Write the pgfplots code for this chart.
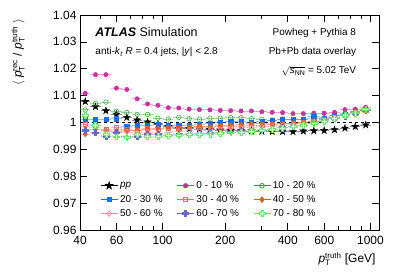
\documentclass[border=0pt]{standalone}
\usepackage{pgfplots}
\pgfplotsset{compat=1.18}
\usepackage{pgfplotstable}
\usepackage{amsmath}
\usepackage{fontspec}
\setmainfont{Liberation Sans}

\definecolor{cmag}{RGB}{204,51,160}
\definecolor{cgrn}{RGB}{40,160,40}
\definecolor{cblu}{RGB}{20,110,240}
\definecolor{cred}{RGB}{255,102,102}
\definecolor{cora}{RGB}{210,100,20}
\definecolor{cpnk}{RGB}{255,136,170}
\definecolor{cpur}{RGB}{102,102,204}
\definecolor{clgr}{RGB}{102,230,102}

\pgfdeclareplotmark{fstar}{%
  \pgfpathmoveto{\pgfqpoint{0pt}{\pgfplotmarksize}}%
  \pgfpathlineto{\pgfqpoint{-0.2245\pgfplotmarksize}{0.309\pgfplotmarksize}}%
  \pgfpathlineto{\pgfqpoint{-0.951\pgfplotmarksize}{0.309\pgfplotmarksize}}%
  \pgfpathlineto{\pgfqpoint{-0.363\pgfplotmarksize}{-0.118\pgfplotmarksize}}%
  \pgfpathlineto{\pgfqpoint{-0.588\pgfplotmarksize}{-0.809\pgfplotmarksize}}%
  \pgfpathlineto{\pgfqpoint{0pt}{-0.382\pgfplotmarksize}}%
  \pgfpathlineto{\pgfqpoint{0.588\pgfplotmarksize}{-0.809\pgfplotmarksize}}%
  \pgfpathlineto{\pgfqpoint{0.363\pgfplotmarksize}{-0.118\pgfplotmarksize}}%
  \pgfpathlineto{\pgfqpoint{0.951\pgfplotmarksize}{0.309\pgfplotmarksize}}%
  \pgfpathlineto{\pgfqpoint{0.2245\pgfplotmarksize}{0.309\pgfplotmarksize}}%
  \pgfpathclose\pgfusepathqfillstroke}
\newcommand{\crosspath}{%
  \pgfpathmoveto{\pgfqpoint{-0.3\pgfplotmarksize}{\pgfplotmarksize}}%
  \pgfpathlineto{\pgfqpoint{0.3\pgfplotmarksize}{\pgfplotmarksize}}%
  \pgfpathlineto{\pgfqpoint{0.3\pgfplotmarksize}{0.3\pgfplotmarksize}}%
  \pgfpathlineto{\pgfqpoint{\pgfplotmarksize}{0.3\pgfplotmarksize}}%
  \pgfpathlineto{\pgfqpoint{\pgfplotmarksize}{-0.3\pgfplotmarksize}}%
  \pgfpathlineto{\pgfqpoint{0.3\pgfplotmarksize}{-0.3\pgfplotmarksize}}%
  \pgfpathlineto{\pgfqpoint{0.3\pgfplotmarksize}{-\pgfplotmarksize}}%
  \pgfpathlineto{\pgfqpoint{-0.3\pgfplotmarksize}{-\pgfplotmarksize}}%
  \pgfpathlineto{\pgfqpoint{-0.3\pgfplotmarksize}{-0.3\pgfplotmarksize}}%
  \pgfpathlineto{\pgfqpoint{-\pgfplotmarksize}{-0.3\pgfplotmarksize}}%
  \pgfpathlineto{\pgfqpoint{-\pgfplotmarksize}{0.3\pgfplotmarksize}}%
  \pgfpathlineto{\pgfqpoint{-0.3\pgfplotmarksize}{0.3\pgfplotmarksize}}%
  \pgfpathclose}
\pgfdeclareplotmark{fcross}{\crosspath\pgfusepathqfillstroke}
\pgfdeclareplotmark{ocross}{\crosspath\pgfusepathqfillstroke}

\pgfplotstableread{
x pp c0 c10 c20 c30 c40 c50 c60 c70
42.4 1.0078 1.0109 1.0047 1.0010 0.9992 0.9957 0.9985 0.9970 1.0027
47.5 1.0059 1.0178 1.0071 1.0010 0.9990 0.9975 0.9982 0.9962 0.9990
53.3 1.0044 1.0178 1.0076 1.0012 0.9974 0.9972 0.9968 0.9950 0.9955
59.9 1.0031 1.0128 1.0042 1.0014 0.9983 0.9968 0.9975 0.9962 0.9947
67.2 1.0019 1.0123 1.0037 0.9985 0.9975 0.9970 0.9965 0.9947 0.9945
75.4 1.0009 1.0088 1.0030 0.9988 0.9972 0.9972 0.9962 0.9950 0.9955
84.6 1.0002 1.0069 1.0030 0.9990 0.9978 0.9975 0.9965 0.9957 0.9950
94.9 0.9993 1.0064 1.0016 0.9995 0.9975 0.9978 0.9960 0.9955 0.9950
106.5 0.9985 1.0055 1.0013 0.9990 0.9978 0.9980 0.9965 0.9952 0.9952
119.5 0.9979 1.0054 1.0019 0.9990 0.9980 0.9980 0.9968 0.9955 0.9953
134.1 0.9977 1.0050 1.0014 0.9990 0.9982 0.9982 0.9972 0.9955 0.9955
150.4 0.9976 1.0048 1.0012 0.9993 0.9984 0.9985 0.9975 0.9958 0.9957
168.8 0.9974 1.0047 1.0016 0.9997 0.9983 0.9985 0.9972 0.9960 0.9958
189.4 0.9972 1.0045 1.0016 1.0000 0.9985 0.9988 0.9975 0.9962 0.9960
212.5 0.9970 1.0044 1.0018 1.0003 0.9987 0.9990 0.9978 0.9965 0.9962
238.4 0.9969 1.0043 1.0018 1.0003 0.9985 0.9992 0.9980 0.9967 0.9965
267.5 0.9968 1.0043 1.0014 1.0000 0.9988 0.9995 0.9982 0.9968 0.9968
300.2 0.9967 1.0040 1.0012 1.0003 0.9990 0.9995 0.9985 0.9970 0.9970
336.8 0.9966 1.0038 1.0009 1.0007 0.9992 0.9993 0.9987 0.9975 0.9975
377.9 0.9966 1.0037 1.0013 1.0012 0.9995 0.9995 0.9990 0.9983 0.9980
424.0 0.9966 1.0033 1.0010 1.0012 0.9998 0.9997 0.9993 0.9985 0.9985
475.7 0.9968 1.0033 1.0012 1.0012 1.0000 1.0000 0.9997 0.9990 0.9990
533.8 0.9969 1.0035 1.0015 1.0022 1.0005 1.0005 1.0003 0.9998 0.9998
598.9 0.9970 1.0035 1.0018 1.0016 1.0010 1.0010 1.0008 1.0005 1.0005
672.0 0.9973 1.0038 1.0025 1.0025 1.0018 1.0018 1.0016 1.0015 1.0015
754.0 0.9979 1.0048 1.0035 1.0032 1.0028 1.0028 1.0026 1.0025 1.0026
846.0 0.9985 1.0050 1.0042 1.0040 1.0036 1.0036 1.0036 1.0035 1.0036
949.2 0.9991 1.0057 1.0050 1.0047 1.0045 1.0046 1.0044 1.0046 1.0048
}\data

\newcommand{\pT}[1]{\textit{p}$_{\text{T}}^{\text{#1}}$}
\pgfplotsset{eb/.style={only marks, line width=0.5pt,
    error bars/x dir=both, error bars/x explicit relative,
    error bars/y dir=both, error bars/y explicit,
    error bars/error bar style={line width=0.8pt, opacity=0.45},
    error bars/error mark=none}}

\begin{document}
\begin{tikzpicture}
\useasboundingbox (-80bp,-42bp) rectangle (319bp,230bp);
\begin{axis}[
  at={(0,0)}, anchor=south west,
  scale only axis, width=299bp, height=215bp,
  xmode=log, xmin=40, xmax=1100, ymin=0.96, ymax=1.04,
  xtick={40,60,100,200,400,600,1000},
  xticklabels={40,60,100,200,400,600,1000},
  minor xtick={50,70,80,90,300,500,700,800,900},
  ytick={0.96,0.97,0.98,0.99,1,1.01,1.02,1.03,1.04},
  yticklabels={0.96,0.97,0.98,0.99,1,1.01,1.02,1.03,1.04},
  major tick length=7bp, minor tick length=4bp,
  axis line style={line width=0.7pt}, tick style={line width=0.6pt, black},
  tick label style={font=\fontsize{12}{14}\selectfont},
  xticklabel style={yshift=-2.5bp},
  /pgf/number format/assume math mode=true,
  xlabel={\pT{truth} [GeV]},
  ylabel={$\langle$ \pT{rec} / \pT{truth} $\rangle$},
  label style={font=\fontsize{12}{14}\selectfont},
  x label style={at={(axis description cs:1,-0.088)}, anchor=north east},
  y label style={at={(axis description cs:-0.207,1)}, anchor=east},
  legend style={draw=none, fill=none, at={(axis description cs:0.057,0.245)}, anchor=north west,
    font=\fontsize{10}{12}\selectfont, row sep=1.5bp,
    /tikz/every even column/.append style={column sep=12bp}},
  legend columns=3, legend cell align=left,
  legend image code/.code={\draw[#1, sharp plot, mark repeat=2, mark phase=2, line width=0.8pt] plot coordinates {(0cm,0cm) (0.3cm,0cm) (0.6cm,0cm)};},
]
\addplot[black, dashed, line width=0.5pt, forget plot, mark=none] coordinates {(40,1) (1100,1)};

\addplot[eb, black, mark=fstar, mark size=3.6pt, mark options={fill=black, solid}] table[x=x,y=pp,x error expr=0.058,y error expr=0.0002] {\data};
\addlegendentry{\textit{pp}}
\addplot[eb, cmag, mark=*, mark size=2.2pt, mark options={fill=cmag}] table[x=x,y=c0,x error expr=0.058,y error expr=0.0002] {\data};
\addlegendentry{0 - 10 \%}
\addplot[eb, cgrn, mark=o, mark size=2.3pt, mark options={fill=white}] table[x=x,y=c10,x error expr=0.058,y error expr=0.0002] {\data};
\addlegendentry{10 - 20 \%}
\addplot[eb, cblu, mark=square*, mark size=2.1pt, mark options={fill=cblu}] table[x=x,y=c20,x error expr=0.058,y error expr=0.0002] {\data};
\addlegendentry{20 - 30 \%}
\addplot[eb, cred, mark=square, mark size=2.1pt, mark options={fill=white}] table[x=x,y=c30,x error expr=0.058,y error expr=0.0002] {\data};
\addlegendentry{30 - 40 \%}
\addplot[eb, cora, mark=diamond*, mark size=2.8pt, mark options={fill=cora}] table[x=x,y=c40,x error expr=0.058,y error expr=0.0002] {\data};
\addlegendentry{40 - 50 \%}
\addplot[eb, cpnk, mark=diamond, mark size=2.8pt, mark options={fill=white}] table[x=x,y=c50,x error expr=0.058,y error expr=0.0002] {\data};
\addlegendentry{50 - 60 \%}
\addplot[eb, cpur, mark=fcross, mark size=3pt, mark options={fill=cpur}] table[x=x,y=c60,x error expr=0.058,y error expr=0.0002] {\data};
\addlegendentry{60 - 70 \%}
\addplot[eb, clgr, mark=ocross, mark size=3pt, mark options={fill=white}] table[x=x,y=c70,x error expr=0.058,y error expr=0.0002] {\data};
\addlegendentry{70 - 80 \%}

\node[anchor=base west, font=\fontsize{12.5}{14}\selectfont] at (rel axis cs:0.04,0.899) {\textbf{\textit{ATLAS}} Simulation};
\node[anchor=base west, font=\fontsize{10}{12}\selectfont] at (rel axis cs:0.04,0.814) {anti-\textit{k}\textsubscript{\textit{t}} \textit{R} = 0.4 jets, |\textit{y}| < 2.8};
\node[anchor=base east, font=\fontsize{10}{12}\selectfont] at (rel axis cs:0.935,0.907) {Powheg + Pythia 8};
\node[anchor=base east, font=\fontsize{10}{12}\selectfont] at (rel axis cs:0.935,0.817) {Pb+Pb data overlay};
\node[anchor=base east, font=\fontsize{10}{12}\selectfont] at (rel axis cs:0.935,0.726) {$\sqrt{\textit{s}_{\text{NN}}}$ = 5.02 TeV};
\end{axis}
\end{tikzpicture}
\end{document}
